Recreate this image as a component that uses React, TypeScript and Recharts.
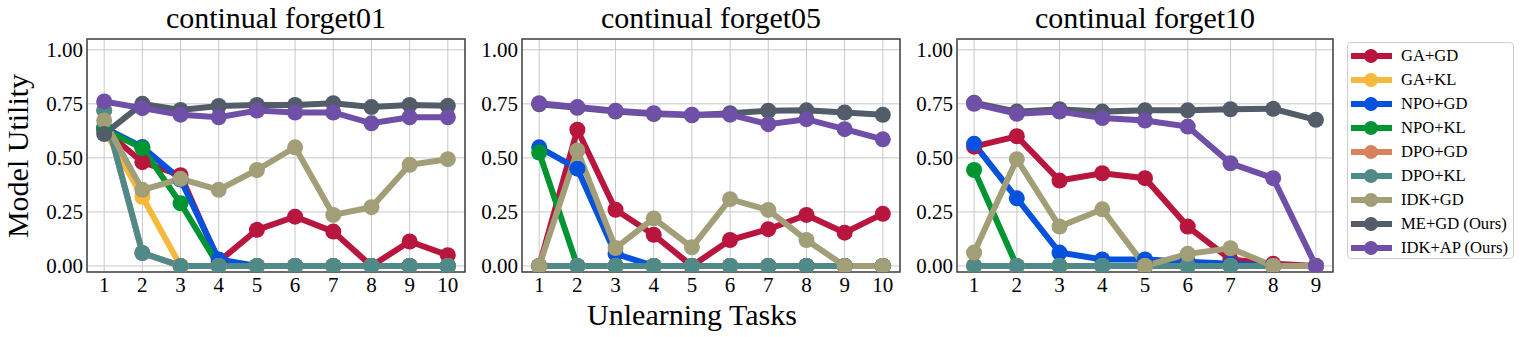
import React from 'react';
import { LineChart, Line, XAxis, YAxis, CartesianGrid, ReferenceArea } from 'recharts';

const seriesNames = ['GA+GD', 'GA+KL', 'NPO+GD', 'NPO+KL', 'DPO+GD', 'DPO+KL', 'IDK+GD', 'ME+GD (Ours)', 'IDK+AP (Ours)'];
const seriesColors = ['#b8163f', '#f6b93b', '#0652dd', '#009432', '#d8835b', '#4f8a88', '#a29e77', '#535c69', '#6f4fa7'];
const yTicks = [0, 0.25, 0.5, 0.75, 1.0];

const panelTitles = ['continual forget01', 'continual forget05', 'continual forget10'];

// forget01
const tasks01 = [1, 2, 3, 4, 5, 6, 7, 8, 9, 10];
const f01_gaGd = [0.63, 0.48, 0.42, 0.02, 0.167, 0.228, 0.159, 0.0, 0.113, 0.05];
const f01_gaKl = [0.63, 0.32, 0.0, 0.0, 0.0, 0.0, 0.0, 0.0, 0.0, 0.0];
const f01_npoGd = [0.64, 0.55, 0.40, 0.03, 0.0, 0.0, 0.0, 0.0, 0.0, 0.0];
const f01_npoKl = [0.63, 0.545, 0.29, 0.0, 0.0, 0.0, 0.0, 0.0, 0.0, 0.0];
const f01_dpoGd = [0.72, 0.06, 0.0, 0.0, 0.0, 0.0, 0.0, 0.0, 0.0, 0.0];
const f01_dpoKl = [0.72, 0.06, 0.0, 0.0, 0.0, 0.0, 0.0, 0.0, 0.0, 0.0];
const f01_idkGd = [0.673, 0.352, 0.403, 0.352, 0.444, 0.549, 0.236, 0.272, 0.468, 0.494];
const f01_meGd = [0.61, 0.75, 0.722, 0.74, 0.745, 0.745, 0.753, 0.735, 0.745, 0.741];
const f01_idkAp = [0.761, 0.73, 0.70, 0.688, 0.719, 0.71, 0.71, 0.66, 0.688, 0.688];

// forget05
const tasks05 = [1, 2, 3, 4, 5, 6, 7, 8, 9, 10];
const f05_gaGd = [0.0, 0.63, 0.26, 0.144, 0.0, 0.12, 0.17, 0.236, 0.154, 0.241];
const f05_gaKl = [0.0, 0.0, 0.0, 0.0, 0.0, 0.0, 0.0, 0.0, 0.0, 0.0];
const f05_npoGd = [0.549, 0.45, 0.056, 0.0, 0.0, 0.0, 0.0, 0.0, 0.0, 0.0];
const f05_npoKl = [0.525, 0.0, 0.0, 0.0, 0.0, 0.0, 0.0, 0.0, 0.0, 0.0];
const f05_dpoGd = [0.0, 0.0, 0.0, 0.0, 0.0, 0.0, 0.0, 0.0, 0.0, 0.0];
const f05_dpoKl = [0.0, 0.0, 0.0, 0.0, 0.0, 0.0, 0.0, 0.0, 0.0, 0.0];
const f05_idkGd = [0.0, 0.534, 0.083, 0.22, 0.086, 0.309, 0.259, 0.12, 0.0, 0.0];
const f05_meGd = [0.748, 0.732, 0.714, 0.703, 0.697, 0.707, 0.718, 0.72, 0.71, 0.699];
const f05_idkAp = [0.753, 0.735, 0.718, 0.707, 0.70, 0.70, 0.656, 0.679, 0.633, 0.586];

// forget10
const tasks10 = [1, 2, 3, 4, 5, 6, 7, 8, 9];
const f10_gaGd = [0.552, 0.60, 0.395, 0.429, 0.406, 0.182, 0.03, 0.01, 0.0];
const f10_gaKl = [0.0, 0.0, 0.0, 0.0, 0.0, 0.0, 0.0, 0.0, 0.0];
const f10_npoGd = [0.565, 0.313, 0.062, 0.03, 0.03, 0.02, 0.01, 0.0, 0.0];
const f10_npoKl = [0.444, 0.0, 0.0, 0.0, 0.0, 0.0, 0.0, 0.0, 0.0];
const f10_dpoGd = [0.0, 0.0, 0.0, 0.0, 0.0, 0.0, 0.0, 0.0, 0.0];
const f10_dpoKl = [0.0, 0.0, 0.0, 0.0, 0.0, 0.0, 0.0, 0.0, 0.0];
const f10_idkGd = [0.062, 0.494, 0.182, 0.262, 0.0, 0.056, 0.082, 0.0, 0.0];
const f10_meGd = [0.755, 0.714, 0.725, 0.714, 0.72, 0.72, 0.725, 0.727, 0.676];
const f10_idkAp = [0.75, 0.704, 0.714, 0.684, 0.673, 0.645, 0.475, 0.406, 0.0];

const buildRows = (tasks: number[], series: number[][]) =>
  tasks.map((t, i) => {
    const row: Record<string, number> = { task: t };
    series.forEach((s, k) => {
      row['s' + k] = s[i];
    });
    return row;
  });

const panels = [
  {
    title: panelTitles[0],
    tasks: tasks01,
    rows: buildRows(tasks01, [f01_gaGd, f01_gaKl, f01_npoGd, f01_npoKl, f01_dpoGd, f01_dpoKl, f01_idkGd, f01_meGd, f01_idkAp]),
  },
  {
    title: panelTitles[1],
    tasks: tasks05,
    rows: buildRows(tasks05, [f05_gaGd, f05_gaKl, f05_npoGd, f05_npoKl, f05_dpoGd, f05_dpoKl, f05_idkGd, f05_meGd, f05_idkAp]),
  },
  {
    title: panelTitles[2],
    tasks: tasks10,
    rows: buildRows(tasks10, [f10_gaGd, f10_gaKl, f10_npoGd, f10_npoKl, f10_dpoGd, f10_dpoKl, f10_idkGd, f10_meGd, f10_idkAp]),
  },
];

const FONT = '"Liberation Serif", "Times New Roman", serif';
const Y_MIN = -0.028;
const Y_MAX = 1.05;

// layout of each chart svg: left offset, width, y axis width, right margin
const layouts = [
  { left: 0, width: 480, yAxisWidth: 87, right: 15 },
  { left: 440, width: 480, yAxisWidth: 82, right: 20 },
  { left: 875, width: 468, yAxisWidth: 82, right: 10 },
];

const TOP = 39;
const PLOT_BOTTOM = 272;
const HEIGHT = 337;

function Panel({ idx }: { idx: number }) {
  const p = panels[idx];
  const l = layouts[idx];
  const n = p.tasks.length;
  const pad = (n - 1) * 0.05;
  const xMin = 1 - pad;
  const xMax = n + pad;
  const plotLeft = l.left + l.yAxisWidth;
  const plotRight = l.left + l.width - l.right;
  return (
    <>
      <div
        style={{
          position: 'absolute',
          left: plotLeft,
          width: plotRight - plotLeft,
          top: 0,
          textAlign: 'center',
          fontFamily: FONT,
          fontSize: 30,
          lineHeight: '36px',
          color: '#000',
          whiteSpace: 'nowrap',
        }}
      >
        {p.title}
      </div>
      <div style={{ position: 'absolute', left: l.left, top: 0 }}>
        <LineChart
          width={l.width}
          height={HEIGHT}
          data={p.rows}
          margin={{ top: TOP, right: l.right, bottom: HEIGHT - PLOT_BOTTOM - 40, left: 0 }}
        >
          <CartesianGrid stroke="#c8c8c8" strokeWidth={1} />
          <XAxis
            dataKey="task"
            type="number"
            domain={[xMin, xMax]}
            ticks={p.tasks}
            allowDataOverflow
            height={40}
            tickSize={0}
            tickMargin={5}
            axisLine={false}
            tickLine={false}
            interval={0}
            tick={{ fontFamily: FONT, fontSize: 21, fill: '#000' }}
          />
          <YAxis
            type="number"
            domain={[Y_MIN, Y_MAX]}
            ticks={yTicks}
            allowDataOverflow
            width={l.yAxisWidth}
            tickSize={0}
            tickMargin={4}
            axisLine={false}
            tickLine={false}
            interval={0}
            tickFormatter={(v: number) => v.toFixed(2)}
            tick={{ fontFamily: FONT, fontSize: 21, fill: '#000' }}
          />
          {seriesNames.map((name, k) => (
            <Line
              key={name}
              dataKey={'s' + k}
              name={name}
              stroke={seriesColors[k]}
              strokeWidth={6}
              dot={{ r: 8, fill: seriesColors[k], stroke: seriesColors[k], strokeWidth: 0 }}
              activeDot={false}
              isAnimationActive={false}
            />
          ))}
          <ReferenceArea
            x1={xMin}
            x2={xMax}
            y1={Y_MIN}
            y2={Y_MAX}
            fill="none"
            fillOpacity={0}
            stroke="#444"
            strokeWidth={1.5}
            ifOverflow="visible"
          />
        </LineChart>
      </div>
    </>
  );
}

function LegendBox() {
  return (
    <div
      style={{
        position: 'absolute',
        left: 1347,
        top: 42,
        width: 167,
        height: 217,
        border: '1px solid #d0d0d0',
        borderRadius: 4,
        boxSizing: 'border-box',
        background: '#fff',
        paddingTop: 1,
      }}
    >
      {seriesNames.map((name, k) => (
        <div key={name} style={{ display: 'flex', alignItems: 'center', height: 24 }}>
          <svg width={50} height={24} style={{ flex: 'none' }}>
            <line x1={3} x2={44} y1={12} y2={12} stroke={seriesColors[k]} strokeWidth={6} />
            <circle cx={23} cy={12} r={7} fill={seriesColors[k]} />
          </svg>
          <span
            style={{
              marginLeft: 3,
              fontFamily: FONT,
              fontSize: 16.6,
              color: '#000',
              whiteSpace: 'nowrap',
              lineHeight: '24px',
            }}
          >
            {name}
          </span>
        </div>
      ))}
    </div>
  );
}

export default function App() {
  return (
    <div style={{ position: 'fixed', left: 0, top: 0, width: 1522, height: 337, background: '#fff', overflow: 'hidden' }}>
      <Panel idx={0} />
      <Panel idx={1} />
      <Panel idx={2} />
      <svg style={{ position: 'absolute', left: 0, top: 0 }} width={40} height={337}>
        <text
          x={0}
          y={0}
          transform="translate(28,156) rotate(-90)"
          textAnchor="middle"
          fontFamily={FONT}
          fontSize={30}
          fill="#000"
        >
          Model Utility
        </text>
      </svg>
      <div
        style={{
          position: 'absolute',
          left: 492,
          width: 400,
          top: 298,
          textAlign: 'center',
          fontFamily: FONT,
          fontSize: 30,
          lineHeight: '34px',
          color: '#000',
        }}
      >
        Unlearning Tasks
      </div>
      <LegendBox />
    </div>
  );
}
